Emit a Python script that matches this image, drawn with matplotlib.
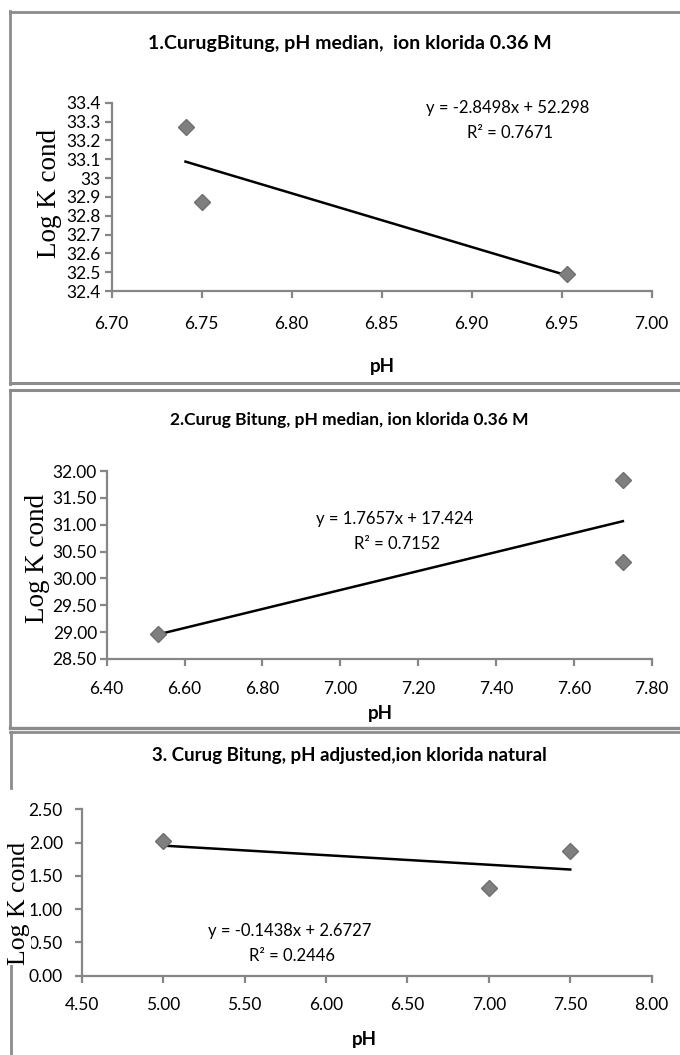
import matplotlib
matplotlib.use('Agg')
import matplotlib.pyplot as plt
from matplotlib.lines import Line2D
from matplotlib.ticker import FixedLocator, FixedFormatter

# ---------------- data ----------------
titles = [
    "1.CurugBitung, pH median,  ion klorida 0.36 M",
    "2.Curug Bitung, pH median, ion klorida 0.36 M",
    "3. Curug Bitung, pH adjusted,ion klorida natural",
]

p1_ph = [6.741, 6.750, 6.953]
p1_logk = [33.27, 32.875, 32.49]
p1_slope, p1_intercept, p1_r2 = -2.8498, 52.298, 0.7671
p1_xticks = [6.70, 6.75, 6.80, 6.85, 6.90, 6.95, 7.00]
p1_xticklabels = ["6.70", "6.75", "6.80", "6.85", "6.90", "6.95", "7.00"]
p1_yticks = [32.4, 32.5, 32.6, 32.7, 32.8, 32.9, 33.0, 33.1, 33.2, 33.3, 33.4]
p1_yticklabels = ["32.4", "32.5", "32.6", "32.7", "32.8", "32.9", "33",
                  "33.1", "33.2", "33.3", "33.4"]

p2_ph = [6.531, 7.726, 7.726]
p2_logk = [28.96, 31.84, 30.30]
p2_slope, p2_intercept, p2_r2 = 1.7657, 17.424, 0.7152
p2_xticks = [6.40, 6.60, 6.80, 7.00, 7.20, 7.40, 7.60, 7.80]
p2_xticklabels = ["6.40", "6.60", "6.80", "7.00", "7.20", "7.40", "7.60", "7.80"]
p2_yticks = [28.5, 29.0, 29.5, 30.0, 30.5, 31.0, 31.5, 32.0]
p2_yticklabels = ["28.50", "29.00", "29.50", "30.00", "30.50", "31.00", "31.50", "32.00"]

p3_ph = [5.00, 7.00, 7.50]
p3_logk = [2.03, 1.31, 1.88]
p3_slope, p3_intercept, p3_r2 = -0.1438, 2.6727, 0.2446
p3_xticks = [4.50, 5.00, 5.50, 6.00, 6.50, 7.00, 7.50, 8.00]
p3_xticklabels = ["4.50", "5.00", "5.50", "6.00", "6.50", "7.00", "7.50", "8.00"]
p3_yticks = [0.0, 0.5, 1.0, 1.5, 2.0, 2.5]
p3_yticklabels = ["0.00", "0.50", "1.00", "1.50", "2.00", "2.50"]

x_label = "pH"
y_label = "Log K cond"

# ---------------- layout helpers ----------------
W, H = 680, 1055
plt.rcParams['font.family'] = ['Lato', 'DejaVu Sans']
fig = plt.figure(figsize=(W / 100, H / 100), dpi=100)
fig.patch.set_facecolor('white')

def fx(px):
    return px / W

def fy(py):
    return 1 - py / H

AXIS_GREY = '#868686'
MARKER_GREY = '#7f7f7f'
BORDER_GREY = '#8c8c8c'


def fline(x0, y0, x1, y1, lw=2.0):
    fig.add_artist(Line2D([fx(x0), fx(x1)], [fy(y0), fy(y1)], color=BORDER_GREY,
                          lw=lw, transform=fig.transFigure, zorder=1))


def make_panel(box, xs, ys, slope, intercept, r2, xticks, xtl, yticks, ytl,
               title, title_xy, title_fs, eq_xy, xlab_xy, ylab_xy, ylab_fs,
               xpad, ypad):
    left, top, right, bottom = box
    ax = fig.add_axes([fx(left), fy(bottom), fx(right) - fx(left), fy(top) - fy(bottom)])
    ax.set_facecolor('none')
    ax.set_xlim(xticks[0], xticks[-1])
    ax.set_ylim(yticks[0], yticks[-1])
    ax.xaxis.set_major_locator(FixedLocator(xticks))
    ax.xaxis.set_major_formatter(FixedFormatter(xtl))
    ax.yaxis.set_major_locator(FixedLocator(yticks))
    ax.yaxis.set_major_formatter(FixedFormatter(ytl))
    for s in ('top', 'right'):
        ax.spines[s].set_visible(False)
    for s in ('left', 'bottom'):
        ax.spines[s].set_color(AXIS_GREY)
        ax.spines[s].set_linewidth(1.6)
    ax.tick_params(axis='both', direction='out', length=5, width=1.6,
                   color=AXIS_GREY, labelsize=12.5, labelcolor='black')
    ax.tick_params(axis='x', pad=xpad)
    ax.tick_params(axis='y', pad=ypad)
    # trendline
    x0, x1 = min(xs), max(xs)
    ax.plot([x0, x1], [slope * x0 + intercept, slope * x1 + intercept],
            color='black', lw=1.8, zorder=3, clip_on=False)
    ax.plot(xs, ys, linestyle='none', marker='D', markersize=8,
            color=MARKER_GREY, markeredgecolor='#6f6f6f', zorder=4, clip_on=False)
    # texts
    fig.text(fx(title_xy[0]), fy(title_xy[1]), title, ha='center', va='center',
             fontsize=title_fs, fontweight='bold')
    sign = '-' if intercept < 0 else '+'
    fig.text(fx(eq_xy[0]), fy(eq_xy[1]),
             f"y = {slope:.4f}x {sign} {abs(intercept):g}", ha='center', va='center',
             fontsize=12)
    fig.text(fx(eq_xy[0] + 2), fy(eq_xy[1] + 25), f"R\u00b2 = {r2:.4f}",
             ha='center', va='center', fontsize=12)
    fig.text(fx(xlab_xy[0]), fy(xlab_xy[1]), x_label, ha='center', va='center',
             fontsize=13.5, fontweight='bold')
    fig.text(fx(ylab_xy[0]), fy(ylab_xy[1]), y_label, ha='center', va='center',
             rotation=90, fontsize=ylab_fs, family=['Liberation Serif', 'DejaVu Serif'],
             bbox=dict(facecolor='white', edgecolor='none', pad=0.5), zorder=5)
    return ax


# ---------------- panel borders ----------------
fline(10, 12, 680, 12)
fline(10, 11, 10, 384)
fline(10, 383, 680, 383, lw=2.2)
fline(10, 390, 680, 390, lw=2.2)
fline(10, 390, 10, 728)
fline(10, 728, 680, 728, lw=2.4)
fline(10, 732, 680, 732, lw=2.0)
fline(11, 732, 11, 788)
fline(11, 957, 11, 1055)

# ---------------- panels ----------------
make_panel((111.7, 102.7, 651.7, 291.2), p1_ph, p1_logk, p1_slope, p1_intercept, p1_r2,
           p1_xticks, p1_xticklabels, p1_yticks, p1_yticklabels,
           titles[0], (350, 43), 14, (508, 108), (382, 367), (50, 193), 19.5,
           xpad=13, ypad=3)

make_panel((106.7, 471, 651.7, 659), p2_ph, p2_logk, p2_slope, p2_intercept, p2_r2,
           p2_xticks, p2_xticklabels, p2_yticks, p2_yticklabels,
           titles[1], (349, 420), 12.5, (395, 519), (380, 713), (37, 558), 19.5,
           xpad=10.5, ypad=2)

make_panel((81.7, 809.3, 651.7, 975.5), p3_ph, p3_logk, p3_slope, p3_intercept, p3_r2,
           p3_xticks, p3_xticklabels, p3_yticks, p3_yticklabels,
           titles[2], (349, 755), 13.5, (290, 931), (364, 1040), (19, 903), 18.5,
           xpad=10.5, ypad=8.5)

fig.savefig('out.png', dpi=100, facecolor='white')
